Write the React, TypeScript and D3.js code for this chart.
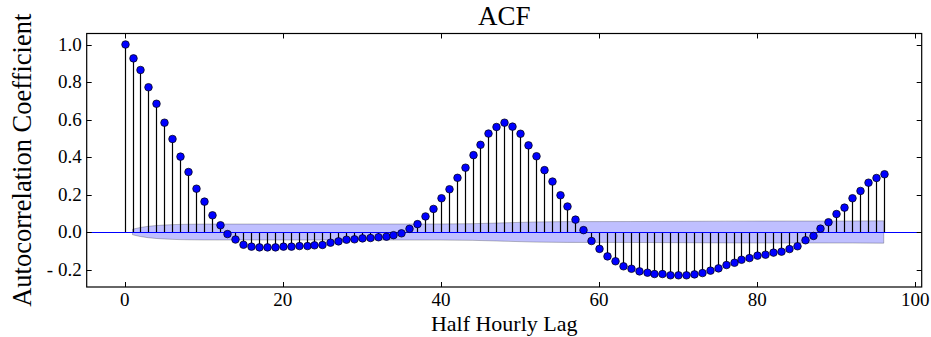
import React from "react";
import * as d3 from "d3";

const acf: number[] = [
  1.0, 0.926, 0.864, 0.772, 0.684, 0.583, 0.496, 0.402, 0.32, 0.231, 0.162, 0.089, 0.036,
  -0.011, -0.04, -0.068, -0.078, -0.082, -0.082, -0.082, -0.078, -0.078, -0.075, -0.075, -0.071,
  -0.069, -0.057, -0.05, -0.041, -0.039, -0.034, -0.032, -0.028, -0.025, -0.017, -0.007, 0.017,
  0.042, 0.083, 0.123, 0.18, 0.228, 0.289, 0.343, 0.41, 0.465, 0.525, 0.56, 0.583,
  0.562, 0.524, 0.462, 0.404, 0.33, 0.269, 0.196, 0.136, 0.066, 0.01, -0.048, -0.09,
  -0.13, -0.156, -0.183, -0.196, -0.21, -0.217, -0.224, -0.224, -0.231, -0.231, -0.231, -0.226,
  -0.219, -0.206, -0.194, -0.176, -0.164, -0.148, -0.139, -0.126, -0.121, -0.11, -0.105, -0.091,
  -0.076, -0.044, -0.021, 0.018, 0.052, 0.096, 0.13, 0.18, 0.219, 0.263, 0.288, 0.308,
];

const bandLags: number[] = [1, 2, 3, 4, 5, 6, 7, 8, 10, 12, 20, 36, 40, 44, 48, 52, 56, 60, 64, 70, 76, 82, 88, 92, 96];
const bandHalf: number[] = [
  0.0148, 0.0243, 0.0304, 0.0345, 0.0372, 0.0392, 0.0406, 0.0414, 0.0423, 0.0424, 0.0426, 0.0428,
  0.0429, 0.0444, 0.049, 0.0538, 0.0554, 0.0555, 0.0558, 0.0569, 0.058, 0.0585, 0.0586, 0.0587, 0.0595,
];

const xTicks: number[] = [0, 20, 40, 60, 80, 100];
const yTicks: number[] = [-0.2, 0.0, 0.2, 0.4, 0.6, 0.8, 1.0];

const W = 931;
const H = 337;
const L = 86.7;
const R = 921.7;
const T = 33.5;
const B = 287;

const FONT = "'Liberation Serif', 'DejaVu Serif', serif";

export default function App() {
  const x = d3.scaleLinear().domain([-4.8, 100.8]).range([L, R]);
  const y = d3.scaleLinear().domain([-0.2933, 1.0587]).range([B, T]);

  const band = d3
    .area<number>()
    .x((_, i) => x(bandLags[i]))
    .y0((d) => y(-d))
    .y1((d) => y(d));

  const fmtY = (v: number) => (v < 0 ? "- " + Math.abs(v).toFixed(1) : v.toFixed(1));
  const snap = (v: number) => Math.round(v) + 0.5;

  return (
    <svg
      width={W}
      height={H}
      style={{ position: "absolute", left: 0, top: 0, background: "#fff" }}
    >
      <rect x={0} y={0} width={W} height={H} fill="#fff" />
      <path
        d={band(bandHalf) || ""}
        fill="#0000ff"
        fillOpacity={0.25}
        stroke="#000"
        strokeOpacity={0.25}
        strokeWidth={1}
      />
      {acf.map((v, i) => (
        <line
          key={"s" + i}
          x1={snap(x(i))}
          x2={snap(x(i))}
          y1={y(0)}
          y2={y(v)}
          stroke="#000"
          strokeWidth={1.2}
        />
      ))}
      <line x1={L} x2={R} y1={snap(y(0))} y2={snap(y(0))} stroke="#0000ff" strokeWidth={1.2} />
      {acf.map((v, i) => (
        <circle
          key={"m" + i}
          cx={snap(x(i))}
          cy={y(v)}
          r={3.8}
          fill="#0000ff"
          stroke="#000"
          strokeWidth={0.7}
        />
      ))}
      <rect x={L} y={T} width={R - L} height={B - T} fill="none" stroke="#000" strokeWidth={1.2} />
      {xTicks.map((t) => (
        <g key={"xt" + t}>
          <line x1={snap(x(t))} x2={snap(x(t))} y1={B} y2={B - 5} stroke="#000" strokeWidth={1} />
          <line x1={snap(x(t))} x2={snap(x(t))} y1={T} y2={T + 5} stroke="#000" strokeWidth={1} />
          <text
            x={x(t)}
            y={306}
            textAnchor="middle"
            fontFamily={FONT}
            fontSize={19}
            fill="#000"
          >
            {t}
          </text>
        </g>
      ))}
      {yTicks.map((t) => (
        <g key={"yt" + t}>
          <line x1={L} x2={L + 5} y1={snap(y(t))} y2={snap(y(t))} stroke="#000" strokeWidth={1} />
          <line x1={R} x2={R - 5} y1={snap(y(t))} y2={snap(y(t))} stroke="#000" strokeWidth={1} />
          <text
            x={L - 5}
            y={y(t) + 6}
            textAnchor="end"
            fontFamily={FONT}
            fontSize={19}
            fill="#000"
          >
            {fmtY(t)}
          </text>
        </g>
      ))}
      <text
        x={(L + R) / 2}
        y={25}
        textAnchor="middle"
        fontFamily={FONT}
        fontSize={27}
        fill="#000"
      >
        ACF
      </text>
      <text
        x={(L + R) / 2}
        y={331}
        textAnchor="middle"
        fontFamily={FONT}
        fontSize={22}
        fill="#000"
      >
        Half Hourly Lag
      </text>
      <text
        transform={`translate(31, ${(T + B) / 2}) rotate(-90)`}
        textAnchor="middle"
        fontFamily={FONT}
        fontSize={26.5}
        fill="#000"
      >
        Autocorrelation Coefficient
      </text>
    </svg>
  );
}
